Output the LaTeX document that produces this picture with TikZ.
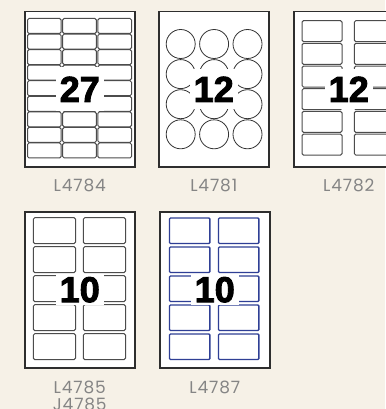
\documentclass[tikz,border=0pt]{standalone}
\usepackage{fontspec}
\setmainfont{Poppins}
\newfontfamily\numfont{Liberation Sans Bold}[FakeBold=2.6]
\newfontfamily\capfont{Poppins}[LetterSpace=5]
\usetikzlibrary{positioning}
\definecolor{paperBeige}{HTML}{F6F1E7}
\definecolor{sheetEdge}{HTML}{2E2E2E}
\definecolor{captionGrey}{HTML}{858585}
\definecolor{labelBlue}{HTML}{2F3F95}

\begin{document}
\begin{tikzpicture}[x=1pt, y=-1pt]
    \tikzset{
        sheet/.style={rectangle, draw=sheetEdge, fill=white, line width=1.5pt,
            minimum width=110pt, minimum height=155pt, anchor=north west, inner sep=0pt},
        labelbox/.style={draw=black!70, line width=1pt, rounded corners=1.5pt},
        bluebox/.style={draw=labelBlue, line width=1.4pt, rounded corners=1pt},
        roundlabel/.style={draw=black!80, line width=0.8pt},
        count/.style={fill=white, inner xsep=4pt, inner ysep=0pt,
            font=\numfont\fontsize{36}{36}\selectfont},
        caption/.style={text=captionGrey, font=\capfont\fontsize{17}{19}\selectfont, inner sep=0pt},
    }
    % Background
    \fill[paperBeige] (0,0) rectangle (385,409);
    \useasboundingbox (0,0) rectangle (385,409);

    % Sheet L4784 (27 labels)
    \node[sheet] (sheetA) at (24,11) {};
    \foreach \col in {0,1,2}
        \foreach \row in {0,...,8}
            \draw[labelbox] ({27.5+35.2*\col},{18.5+15.56*\row}) rectangle +(33.6,15);
    \node[count, minimum height=44pt] (numA) at (sheetA.center) {27};
    \node[caption, below=11pt of sheetA] (capA) {L4784};

    % Sheet L4781 (12 round labels)
    \node[sheet] (sheetB) at (158,11) {};
    \foreach \col in {0,1,2}
        \foreach \row in {0,...,3}
            \draw[roundlabel] ({180.7+33.4*\col},{44+30.1*\row}) circle[radius=14.5];
    \node[count, minimum height=40pt] (numB) at (sheetB.center) {12};
    \node[caption, below=11pt of sheetB] (capB) {L4781};

    % Sheet L4782 (12 labels)
    \node[sheet] (sheetC) at (293,11) {};
    \foreach \col in {0,1}
        \foreach \row in {0,...,5}
            \draw[labelbox] ({302+52.3*\col},{20.7+22.67*\row}) rectangle +(40,21);
    \node[count, minimum height=40pt] (numC) at (sheetC.center) {12};
    \node[caption, below=11pt of sheetC] (capC) {L4782};

    % Sheet L4785 / J4785 (10 labels)
    \node[sheet, minimum height=156pt] (sheetD) at (24,211) {};
    \foreach \col in {0,1}
        \foreach \row in {0,...,4}
            \draw[labelbox] ({33.3+50*\col},{217.7+29*\row}) rectangle +(42.2,26);
    \node[count, minimum height=30pt] (numD) at (sheetD.center) {10};
    \node[caption, below=12pt of sheetD] (capD) {L4785};
    \node[caption, below=4.5pt of capD] (capDj) {J4785};

    % Sheet L4787 (10 blue labels)
    \node[sheet, minimum height=156pt] (sheetE) at (159,211) {};
    \foreach \col in {0,1}
        \foreach \row in {0,...,4}
            \draw[bluebox] ({169.5+49*\col},{218+29*\row}) rectangle +(40.4,25.5);
    \node[count, minimum height=30pt] (numE) at (sheetE.center) {10};
    \node[caption, below=12pt of sheetE] (capE) {L4787};
\end{tikzpicture}
\end{document}
